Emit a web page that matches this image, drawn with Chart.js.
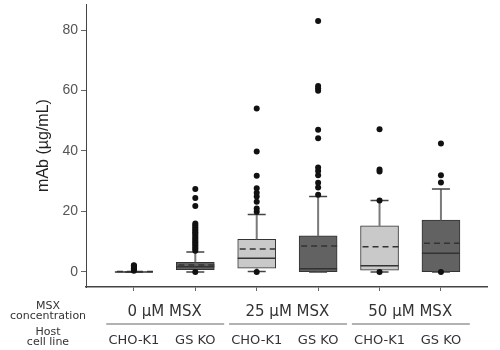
<!DOCTYPE html>
<html>
<head>
<meta charset="utf-8">
<script src="https://cdn.jsdelivr.net/npm/chart.js@4"></script>
<style>
  body { margin: 0; background: #fff; }
  #wrap { width: 500px; height: 350px; }
</style>
</head>
<body>
<div id="wrap"><canvas id="chart" width="500" height="350"></canvas></div>
<script>
// host cell line per box, and the MSX group each pair belongs to
const categories = ["CHO-K1", "GS KO", "CHO-K1", "GS KO", "CHO-K1", "GS KO"];
const groups = ["0 µM MSX", "25 µM MSX", "50 µM MSX"];

// box statistics, mAb in µg/mL
const q1 = [0, 0.7, 1.2, 0.1, 0.6, 0.1];
const medians = [0, 1.7, 4.5, 1.0, 2.0, 6.2];
const q3 = [0, 3.2, 10.8, 11.9, 15.2, 17.1];
const means = [0.1, 2.3, 7.6, 8.6, 8.3, 9.5];
const whiskerLow = [0, 0, 0.1, 0, 0, 0];
const whiskerHigh = [0, 6.6, 19.0, 24.9, 23.6, 27.4];

const outliers = [
  [0.4, 0.8, 1.1, 1.4, 1.7, 2.0, 2.2],
  [0, 7.0, 7.6, 8.1, 8.7, 9.2, 9.8, 10.3, 10.9, 11.4, 12.0, 12.6, 13.1, 13.7, 14.2, 14.8, 15.4, 16.0, 21.8, 24.4, 27.4],
  [0, 19.9, 21.0, 23.2, 24.9, 26.2, 27.7, 31.8, 39.8, 54.0],
  [25.5, 27.9, 29.5, 32.0, 33.4, 34.5, 44.2, 47.0, 59.9, 60.7, 61.5, 83.0],
  [0, 23.6, 33.2, 33.9, 47.2],
  [0, 29.6, 32.0, 42.5]
];

const yTicks = [0, 20, 40, 60, 80];

const boxColors = categories.map(c => c === "CHO-K1" ? "#c9c9c9" : "#626262");
const boxHalf = 19;

// whiskers, caps, medians and mean lines drawn right after the boxes
const boxParts = {
  id: "boxParts",
  afterDatasetDraw(chart, args) {
    if (args.index !== 0) return;
    const { ctx, scales: { x, y } } = chart;
    ctx.save();
    categories.forEach((c, i) => {
      const px = x.getPixelForValue(i);
      // whiskers
      ctx.strokeStyle = "#7a7a7a";
      ctx.lineWidth = 2;
      ctx.beginPath();
      ctx.moveTo(px, y.getPixelForValue(q3[i]));
      ctx.lineTo(px, y.getPixelForValue(whiskerHigh[i]));
      ctx.moveTo(px, y.getPixelForValue(q1[i]));
      ctx.lineTo(px, y.getPixelForValue(whiskerLow[i]));
      ctx.stroke();
      // caps
      ctx.strokeStyle = "#444";
      ctx.lineWidth = 1.5;
      ctx.beginPath();
      [whiskerHigh[i], whiskerLow[i]].forEach(v => {
        const py = y.getPixelForValue(v);
        ctx.moveTo(px - 9, py);
        ctx.lineTo(px + 9, py);
      });
      ctx.stroke();
      // median
      ctx.strokeStyle = "#333";
      ctx.lineWidth = 1.5;
      ctx.beginPath();
      const my = y.getPixelForValue(medians[i]);
      ctx.moveTo(px - boxHalf, my);
      ctx.lineTo(px + boxHalf, my);
      ctx.stroke();
      // mean
      ctx.setLineDash([6, 4]);
      ctx.beginPath();
      const ay = y.getPixelForValue(means[i]);
      ctx.moveTo(px - boxHalf + 2, ay);
      ctx.lineTo(px + boxHalf, ay);
      ctx.stroke();
      ctx.setLineDash([]);
    });
    ctx.restore();
  }
};

// row headers, group labels and their underlines below the x axis
const bottomLabels = {
  id: "bottomLabels",
  afterDraw(chart) {
    const { ctx, scales: { x } } = chart;
    ctx.save();
    ctx.fillStyle = "#333";
    ctx.textAlign = "center";
    ctx.textBaseline = "middle";
    ctx.font = "11px 'DejaVu Sans'";
    ctx.fillText("MSX", 48, 306);
    ctx.fillText("concentration", 48, 316);
    ctx.fillText("Host", 48, 332);
    ctx.fillText("cell line", 48, 342);
    ctx.font = "15px 'DejaVu Sans'";
    groups.forEach((g, k) => {
      const a = x.getPixelForValue(2 * k);
      const b = x.getPixelForValue(2 * k + 1);
      ctx.fillText(g, (a + b) / 2, 312);
      ctx.strokeStyle = "#999";
      ctx.lineWidth = 1.5;
      ctx.beginPath();
      ctx.moveTo(x.getPixelForValue(2 * k - 0.45), 324);
      ctx.lineTo(x.getPixelForValue(2 * k + 1.47), 324);
      ctx.stroke();
    });
    ctx.restore();
  }
};

const outlierPoints = [];
outliers.forEach((list, i) => list.forEach(v => outlierPoints.push({ x: i, y: v })));

new Chart(document.getElementById("chart").getContext("2d"), {
  type: "bar",
  data: {
    datasets: [
      {
        label: "box",
        data: categories.map((c, i) => ({ x: i, y: [q1[i], q3[i]] })),
        backgroundColor: boxColors,
        borderColor: "#333",
        borderWidth: 1,
        borderSkipped: false,
        barThickness: boxHalf * 2,
        order: 2
      },
      {
        type: "scatter",
        label: "outliers",
        data: outlierPoints,
        pointRadius: 3,
        pointBackgroundColor: "#111",
        pointBorderWidth: 0,
        order: 1
      }
    ]
  },
  options: {
    responsive: false,
    animation: false,
    devicePixelRatio: 1,
    layout: { padding: { left: 30, right: 13, top: 4, bottom: 0 } },
    plugins: { legend: { display: false }, tooltip: { enabled: false } },
    scales: {
      x: {
        type: "linear",
        min: -0.78,
        max: 5.75,
        offset: false,
        grid: { offset: false, drawOnChartArea: false, tickLength: 4, tickColor: "#666" },
        border: { color: "#444", width: 1.5 },
        afterBuildTicks: s => { s.ticks = categories.map((c, i) => ({ value: i })); },
        afterFit: s => { s.height = 63; s.paddingLeft = 0; s.paddingRight = 0; },
        ticks: {
          autoSkip: false,
          maxRotation: 0,
          padding: 42,
          color: "#333",
          font: { family: "'DejaVu Sans'", size: 13 },
          callback: v => categories[v]
        }
      },
      y: {
        min: -5,
        max: 88.6,
        grid: { drawOnChartArea: false, tickLength: 5, tickColor: "#666" },
        border: { color: "#444", width: 1 },
        afterBuildTicks: s => { s.ticks = yTicks.map(v => ({ value: v })); },
        afterFit: s => { s.width = 56; s.paddingTop = 0; s.paddingBottom = 0; },
        ticks: {
          padding: 3,
          color: "#555",
          font: { family: "'Liberation Sans'", size: 14 }
        },
        title: {
          display: true,
          text: "mAb (µg/mL)",
          color: "#222",
          font: { family: "'Liberation Sans'", size: 16 },
          padding: { top: 4, bottom: 4 }
        }
      }
    }
  },
  plugins: [boxParts, bottomLabels]
});
</script>
</body>
</html>
